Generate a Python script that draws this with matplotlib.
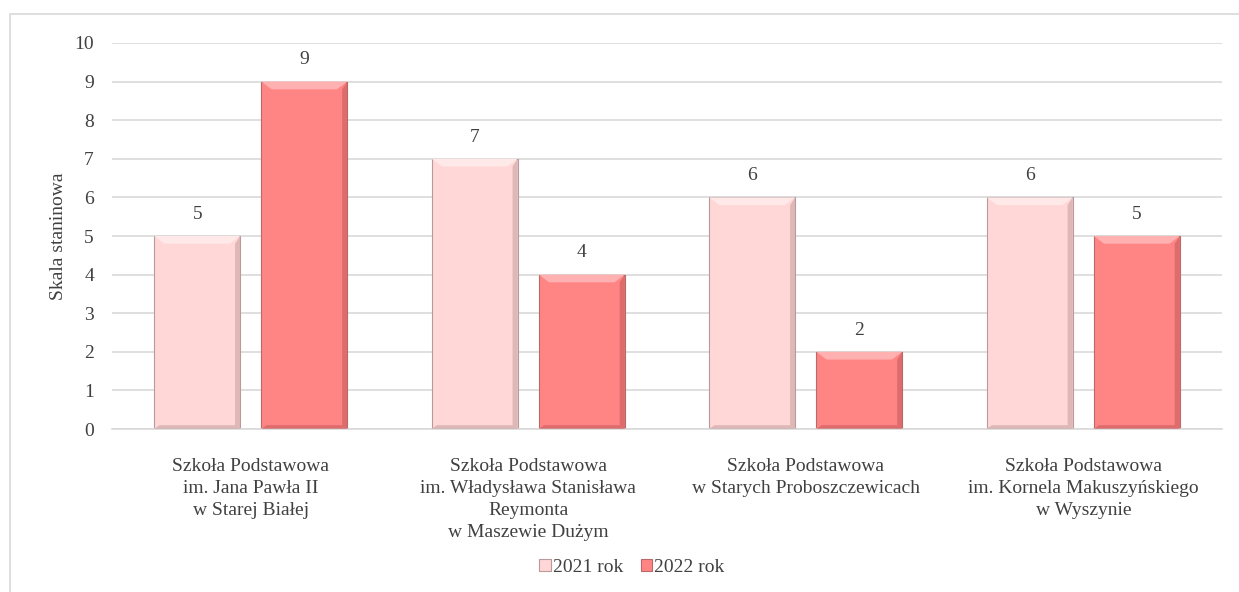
import matplotlib
matplotlib.use('Agg')
import matplotlib.pyplot as plt
from matplotlib.patches import Polygon, Rectangle
import numpy as np

plt.rcParams['font.family'] = ['Liberation Serif', 'DejaVu Serif']

# dane
szkoly = ['Szkoła Podstawowa\nim. Jana Pawła II\nw Starej Białej',
          'Szkoła Podstawowa\nim. Władysława Stanisława\nReymonta\nw Maszewie Dużym',
          'Szkoła Podstawowa\nw Starych Proboszczewicach',
          'Szkoła Podstawowa\nim. Kornela Makuszyńskiego\nw Wyszynie']
rok_2021 = [5, 7, 6, 6]
rok_2022 = [9, 4, 2, 5]
serie = ['2021 rok', '2022 rok']
kolory = ['#ffd7d7', '#ff8585']
jasne = ['#ffe8e8', '#ffb0b0']
ciemne = ['#c9a3a3', '#c85c5c']

FS = 14
TXT = '#404040'

fig = plt.figure(figsize=(12.39, 5.92), dpi=100)
ax = fig.add_axes([0.0904, 0.2753, 0.8959, 0.6521])

# ramka wykresu
fig.patches.append(Rectangle((10 / 1239, -0.1), 1.2, 1 - 14 / 592 + 0.1,
                             transform=fig.transFigure, fill=False,
                             edgecolor='#d9d9d9', linewidth=1.2))

x = np.arange(len(szkoly))
w = 0.31
gap = 0.076
off = (w + gap) / 2

def bevel(bars, jasny, ciemny):
    # efekt wypukłości krawędzi słupka
    for b in bars:
        x0, y0 = b.get_x(), b.get_y()
        bw, bh = b.get_width(), b.get_height()
        dx = bw * 0.12
        dy = 0.2
        ax.add_patch(Polygon([(x0, y0 + bh), (x0 + bw, y0 + bh),
                              (x0 + bw - dx, y0 + bh - dy), (x0 + dx, y0 + bh - dy)],
                             closed=True, facecolor=jasny, edgecolor='none', zorder=3))
        ax.add_patch(Polygon([(x0 + bw, y0 + bh), (x0 + bw, y0),
                              (x0 + bw - dx * 0.5, y0 + dy * 0.5), (x0 + bw - dx * 0.5, y0 + bh - dy)],
                             closed=True, facecolor=ciemny, edgecolor='none', alpha=0.6, zorder=3))
        ax.add_patch(Polygon([(x0, y0), (x0 + bw, y0),
                              (x0 + bw - dx * 0.5, y0 + dy * 0.5), (x0 + dx * 0.5, y0 + dy * 0.5)],
                             closed=True, facecolor=ciemny, edgecolor='none', alpha=0.6, zorder=3))

b1 = ax.bar(x - off, rok_2021, w, color=kolory[0], edgecolor='#b89a9a', linewidth=0.8,
            label=serie[0], zorder=2)
b2 = ax.bar(x + off, rok_2022, w, color=kolory[1], edgecolor='#b86a6a', linewidth=0.8,
            label=serie[1], zorder=2)
bevel(b1, jasne[0], ciemne[0])
bevel(b2, jasne[1], ciemne[1])

for bars in (b1, b2):
    for b in bars:
        ax.annotate(f'{int(b.get_height())}', (b.get_x() + b.get_width() / 2, b.get_height()),
                    xytext=(0, 9.5), textcoords='offset points', ha='center', va='bottom',
                    fontsize=FS, color=TXT)

ax.set_xlim(-0.5, len(szkoly) - 0.5)
ax.set_ylim(0, 10)
ax.set_yticks(range(0, 11))
ax.set_xticks(x)
ax.set_xticklabels(szkoly, fontsize=FS, color=TXT, linespacing=1.38)
ax.tick_params(axis='y', labelsize=FS, colors=TXT, length=0, pad=13)
ax.tick_params(axis='x', length=0, pad=21)
ax.grid(axis='y', color='#d9d9d9', linewidth=1.2, zorder=0)
ax.set_axisbelow(True)
for s in ['top', 'right', 'left']:
    ax.spines[s].set_visible(False)
ax.spines['bottom'].set_color('#d9d9d9')
ax.spines['bottom'].set_linewidth(1.2)
ax.set_ylabel('Skala staninowa', fontsize=FS, color=TXT, labelpad=5)

leg = fig.legend(handles=[b1, b2], labels=serie, loc='center', bbox_to_anchor=(0.51, 0.042),
                 ncol=2, frameon=False, fontsize=FS, handlelength=0.6, handleheight=0.6,
                 handletextpad=0.1, columnspacing=0.9, labelcolor=TXT)

fig.savefig('out.png', dpi=100)
